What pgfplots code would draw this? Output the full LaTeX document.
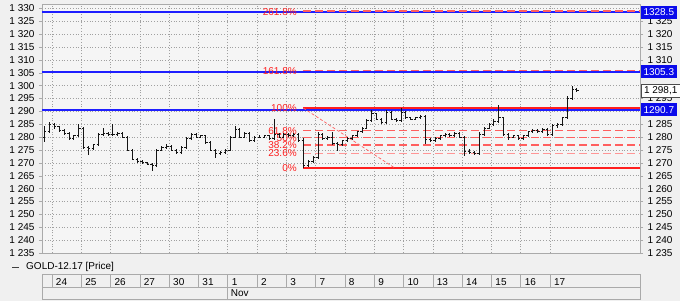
\documentclass[border=0pt]{standalone}
\usepackage{pgfplots}
\pgfplotsset{compat=1.18}
\usepackage{pgfplotstable}
\usepackage{fontspec}
\setmainfont{Liberation Sans}
\definecolor{bgout}{RGB}{240,240,240}
\definecolor{bgin}{RGB}{245,245,245}
\definecolor{gridc}{RGB}{160,160,160}
\definecolor{framec}{RGB}{170,170,170}
\definecolor{fibred}{RGB}{255,30,30}
\definecolor{fibdash}{RGB}{255,95,95}
\definecolor{fibpink}{RGB}{255,150,150}
\definecolor{lvlblue}{RGB}{30,30,255}
\definecolor{boxblue}{RGB}{10,10,235}
\definecolor{barc}{RGB}{20,20,20}

\pgfdeclareplotmark{otick}{\pgfpathmoveto{\pgfqpoint{-\pgfplotmarksize}{0pt}}\pgfpathlineto{\pgfqpoint{0pt}{0pt}}\pgfusepathqstroke}
\pgfdeclareplotmark{ctick}{\pgfpathmoveto{\pgfqpoint{0pt}{0pt}}\pgfpathlineto{\pgfqpoint{\pgfplotmarksize}{0pt}}\pgfusepathqstroke}

\pgfplotstableread{
x o h l c
-0.250 1280 1284.5 1278 1282
-0.083 1282 1286 1281.5 1285
0.083 1285 1285.5 1283 1284
0.250 1284 1284.5 1282 1282.5
0.417 1282.5 1283 1281 1281.5
0.583 1281.5 1282 1279 1279.5
0.750 1279.5 1281 1279 1280.5
0.917 1280.5 1285 1280 1283.5
1.083 1283.5 1284 1275.5 1276
1.250 1276 1276.5 1273 1275.5
1.417 1275.5 1277.5 1275 1277
1.583 1277 1281.5 1276.5 1281
1.750 1281 1283.5 1280.5 1281.5
1.917 1281.5 1282 1280.5 1281
2.083 1281 1285 1280.5 1281
2.250 1281 1282 1280.5 1281.5
2.417 1281.5 1282 1279.5 1280
2.583 1280 1280.5 1274.5 1275
2.750 1275 1275.5 1271 1271.5
2.917 1271.5 1272 1270 1270.5
3.083 1270.5 1271 1269.5 1270
3.250 1270 1270.5 1269 1269.5
3.417 1269.5 1270 1267 1269
3.583 1269 1275.5 1268.5 1275
3.750 1275 1276.5 1274.5 1276
3.917 1276 1277.5 1275.5 1276.5
4.083 1276.5 1277 1274.5 1275
4.250 1275 1275.5 1273.5 1274
4.417 1274 1276.5 1273.5 1276
4.583 1276 1280 1275.5 1279.5
4.750 1279.5 1281.5 1279 1281
4.917 1281 1281.5 1279.5 1280
5.083 1280 1281 1279.5 1280.5
5.250 1280.5 1281 1277.5 1278
5.417 1278 1278.5 1274.5 1275
5.583 1275 1275.5 1272 1273.5
5.750 1273.5 1274.5 1273 1274
5.917 1274 1275.5 1273.5 1275
6.083 1275 1280.5 1274.5 1280
6.250 1280 1284.5 1279.5 1283
6.417 1283 1283.5 1279.5 1280
6.583 1280 1282 1279.5 1281.5
6.750 1281.5 1282 1278 1278.5
6.917 1278.5 1280.5 1278 1280
7.083 1280 1281 1279.5 1280
7.250 1280 1281 1279.5 1280.5
7.417 1280.5 1281 1279 1279.5
7.583 1279.5 1287 1279 1281
7.750 1281 1281.5 1279.5 1280
7.917 1280 1281.5 1279.5 1281
8.083 1281 1281.5 1280 1280.5
8.250 1280.5 1281.5 1280 1281
8.417 1281 1281.5 1278 1278.5
8.583 1278.5 1279.7 1268.2 1269
8.750 1269 1271 1268.5 1270.5
8.917 1270.5 1272.5 1270 1272
9.083 1272 1282 1271.5 1281
9.250 1281 1281.5 1279 1279.5
9.417 1279.5 1280.5 1279 1280
9.583 1280 1282 1277 1277.5
9.750 1277.5 1278 1274.5 1277
9.917 1277 1279 1276.5 1278.5
10.083 1278.5 1280 1278 1279.5
10.250 1279.5 1281 1279 1280.5
10.417 1280.5 1282.5 1280 1282
10.583 1282 1284 1281.5 1283.5
10.750 1283.5 1287 1283 1286.5
10.917 1286.5 1290.5 1286 1289
11.083 1289 1289.5 1286.5 1287
11.250 1287 1287.5 1285 1285.5
11.417 1285.5 1290.5 1285 1289.5
11.583 1289.5 1290 1286.5 1287
11.750 1287 1287.5 1286 1286.5
11.917 1286.5 1291.3 1286 1289.5
12.083 1289.5 1290 1287 1287.5
12.250 1287.5 1288 1286.5 1287
12.417 1287 1288 1286.5 1287.5
12.583 1287.5 1288.5 1287 1288
12.750 1288 1288.5 1277.5 1279
12.917 1279 1279.5 1278 1278.5
13.083 1278.5 1280 1278 1279.5
13.250 1279.5 1281 1279 1280.5
13.417 1280.5 1281.5 1280 1281
13.583 1281 1281.5 1280 1280.5
13.750 1280.5 1282 1280 1281.5
13.917 1281.5 1282 1279.5 1280
14.083 1280 1280.5 1272.5 1274.5
14.250 1274.5 1275.5 1273.5 1274
14.417 1274 1274.5 1273 1273.5
14.583 1273.5 1282 1273 1281
14.750 1281 1284 1280.5 1283.5
14.917 1283.5 1285.5 1283 1285
15.083 1285 1287 1284.5 1286
15.250 1286 1292.5 1285.5 1287.5
15.417 1287.5 1288 1280.5 1281
15.583 1281 1281.5 1279 1280
15.750 1280 1281 1279.5 1280.5
15.917 1280.5 1281 1279 1279.5
16.083 1279.5 1281 1279 1280.5
16.250 1280.5 1282.5 1280 1282
16.417 1282 1283 1281.5 1282.5
16.583 1282.5 1283 1281.5 1282
16.750 1282 1283.5 1281.5 1283
16.917 1283 1283.5 1280.5 1281
17.083 1281 1285 1280.5 1284.5
17.250 1284.5 1285.5 1283.5 1285
17.417 1285 1288 1284.5 1287.5
17.583 1287.5 1296 1287 1295
17.750 1295 1299.8 1294.5 1298.5
17.917 1298.5 1299 1297.5 1298.1
}\ohlc

\pgfplotsset{
  chartgeom/.style={
    at={(42pt,48pt)}, anchor=south west, scale only axis,
    width=598pt, height=249pt,
    xmin=-0.34, xmax=20.07, ymin=1235, ymax=1331.7,
    ytick={1235,1240,...,1330},
    /pgf/number format/1000 sep={\ },
    /pgf/number format/assume math mode=true,
    yticklabel style={font=\fontsize{10}{12}\selectfont, text=black},
    tick align=outside, major tick length=3pt,
    every tick/.style={framec},
  }
}

\begin{document}
\begin{tikzpicture}
\fill[bgout] (0pt,0pt) rectangle (680pt,301pt);

\begin{axis}[chartgeom,
  axis background/.style={fill=bgin},
  axis line style={framec},
  ytick pos=left,
  xtick={0,...,17},
  xticklabels={24,25,26,27,30,31,1,2,3,7,8,9,10,13,14,15,16,17},
  xtick style={draw=none},
  xticklabel style={font=\fontsize{10}{12}\selectfont, anchor=north west, xshift=0.5pt, yshift=-19pt},
  grid=major,
  major grid style={gridc, line width=0.6pt, dash pattern=on 1pt off 1.8pt},
  yticklabel style={xshift=-1pt},
]
% horizontal levels (blue)
\addplot[lvlblue, line width=1.8pt] coordinates {(-0.34,1328.5) (20.07,1328.5)};
\addplot[lvlblue, line width=1.8pt] coordinates {(-0.34,1305.3) (20.07,1305.3)};
\addplot[lvlblue, line width=1.8pt] coordinates {(-0.34,1290.5) (20.07,1290.5)};
% fibonacci levels
\addplot[fibdash, line width=1.3pt, dash pattern=on 8pt off 4pt] coordinates {(8.58,1329.0) (20.07,1329.0)};
\addplot[fibdash, line width=1.3pt, dash pattern=on 8pt off 4pt] coordinates {(8.58,1305.9) (20.07,1305.9)};
\addplot[fibred, line width=1.8pt] coordinates {(8.58,1291.3) (20.07,1291.3)};
\addplot[fibdash, line width=1.3pt, dash pattern=on 8pt off 4pt] coordinates {(8.58,1282.5) (20.07,1282.5)};
\addplot[fibdash, line width=1.3pt, dash pattern=on 8pt off 4pt] coordinates {(8.58,1279.75) (20.07,1279.75)};
\addplot[fibdash, line width=1.3pt, dash pattern=on 8pt off 4pt] coordinates {(8.58,1277.0) (20.07,1277.0)};
\addplot[fibpink, line width=1.6pt, dash pattern=on 8pt off 4pt] coordinates {(8.58,1273.65) (20.07,1273.65)};
\addplot[fibred, line width=1.8pt] coordinates {(8.58,1268.0) (20.07,1268.0)};
\addplot[fibdash, line width=0.7pt, dash pattern=on 3pt off 2pt] coordinates {(8.58,1291.3) (11.7,1268.0)};
% labels
\begin{scope}[every node/.style={anchor=east, text=fibred, inner sep=0pt, font=\fontsize{10}{12}\selectfont}]
\node at (axis cs:8.36,1328.7) {261.8\%};
\node at (axis cs:8.36,1305.6) {161.8\%};
\node at (axis cs:8.36,1291.3) {100\%};
\node at (axis cs:8.36,1282.5) {61.8\%};
\node at (axis cs:8.36,1279.75) {50\%};
\node at (axis cs:8.36,1277.0) {38.2\%};
\node at (axis cs:8.36,1273.65) {23.6\%};
\node at (axis cs:8.36,1268.0) {0\%};
\end{scope}
% OHLC bars: high-low line with open tick
\addplot[barc, line width=1pt, only marks, mark=otick, mark size=1.8pt,
  error bars/.cd, y dir=both, y explicit, error mark=none,
  error bar style={barc, line width=1pt}]
  table[x=x, y=o, y error plus expr=\thisrow{h}-\thisrow{o}, y error minus expr=\thisrow{o}-\thisrow{l}] {\ohlc};
% close tick
\addplot[barc, line width=1pt, only marks, mark=ctick, mark size=1.8pt] table[x=x, y=c] {\ohlc};
\end{axis}

\begin{axis}[chartgeom,
  axis y line*=right, axis x line=none,
  axis line style={framec},
  yticklabels={1\ 235,1\ 240,1\ 245,1\ 250,1\ 255,1\ 260,1\ 265,1\ 270,1\ 275,1\ 280,1\ 285,,1\ 295,,,1\ 310,1\ 315,1\ 320,1\ 325,},
  yticklabel style={xshift=1pt},
  clip=false,
]
% value boxes on the right
\begin{scope}[every node/.style={anchor=west, font=\fontsize{10}{12}\selectfont, inner xsep=2.5pt, inner ysep=1.5pt, minimum height=13pt}]
\node[fill=boxblue, text=white] at (axis cs:20.07,1328.5) [xshift=0.8pt] {1328.5};
\node[fill=boxblue, text=white] at (axis cs:20.07,1305.3) [xshift=0.8pt] {1305.3};
\node[fill=boxblue, text=white] at (axis cs:20.07,1290.7) [xshift=0.8pt] {1290.7};
\node[fill=white, draw=black!70, text=black, line width=0.6pt] at (axis cs:20.07,1298.1) [xshift=1.2pt] {1\ 298,1};
\end{scope}
% date table
\draw[framec, line width=0.7pt] (axis cs:-0.34,1226.8) rectangle (axis cs:20.07,1216.9);
\draw[framec, line width=0.7pt] (axis cs:-0.34,1221.8) -- (axis cs:20.07,1221.8);
\pgfplotsinvokeforeach{0,...,17}{\draw[framec, line width=0.7pt] (axis cs:#1,1226.8) -- (axis cs:#1,1221.8);}
\draw[framec, line width=0.7pt] (axis cs:6,1221.8) -- (axis cs:6,1216.9);
\node[anchor=west, inner sep=0pt, font=\fontsize{10}{12}\selectfont] at (axis cs:6.1,1219.3) {Nov};
\end{axis}

% series legend
\draw[black!75, line width=0.7pt] (12pt,34pt) -- (19pt,34pt);
\node[anchor=west, inner sep=0pt, font=\fontsize{10}{12}\selectfont] at (26pt,34pt) {GOLD-12.17 [Price]};

\pgfresetboundingbox
\path[use as bounding box] (0pt,0pt) rectangle (680pt,301pt);
\end{tikzpicture}
\end{document}
